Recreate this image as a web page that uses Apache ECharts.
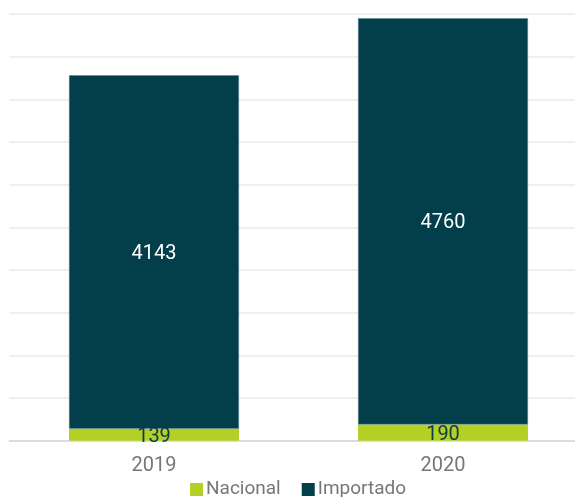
<!DOCTYPE html>
<html><head><meta charset="utf-8">
<script src="https://cdn.jsdelivr.net/npm/echarts@6/dist/echarts.min.js"></script>
<style>html,body{margin:0;padding:0;background:#fff;overflow:hidden}#c{width:595px;height:497px}</style>
</head><body><div id="c"></div>
<script>
var categories = ['2019', '2020'];
var nacional = [139, 190];
var importado = [4143, 4760];

var chart = echarts.init(document.getElementById('c'));
chart.setOption({
  animation: false,
  textStyle: { fontFamily: 'Roboto' },
  grid: { left: 9.5, top: 14, width: 578, height: 426.7, containLabel: false },
  legend: {
    data: ['Nacional', 'Importado'],
    top: 475, left: 185,
    itemWidth: 13, itemHeight: 13, itemGap: 21,
    icon: 'rect',
    itemStyle: { borderWidth: 0 },
    textStyle: { color: '#777', fontSize: 19, fontFamily: 'Roboto', padding: [0, 0, 0, -2] }
  },
  xAxis: {
    type: 'category', data: categories,
    axisLine: { lineStyle: { color: '#dddddd', width: 2 } },
    axisTick: { show: false },
    axisLabel: { color: '#777', fontSize: 20, margin: 15 }
  },
  yAxis: {
    type: 'value', min: 0, max: 5000, interval: 500,
    axisLabel: { show: false },
    axisLine: { show: false }, axisTick: { show: false },
    splitLine: { lineStyle: { color: '#efefef', width: 2 } }
  },
  series: [
    {
      name: 'Nacional', type: 'bar', stack: 't', data: nacional,
      barWidth: '58.8%',
      itemStyle: { color: '#b4d025' },
      label: { show: true, position: 'inside', color: '#0a3d48', fontSize: 20, offset: [0, 2] }
    },
    {
      name: 'Importado', type: 'bar', stack: 't', data: importado,
      itemStyle: { color: '#023f4b', borderColor: '#5e8790', borderWidth: 0.5 },
      label: { show: true, position: 'inside', color: '#ffffff', fontSize: 20, offset: [0, 2] }
    }
  ]
});
</script></body></html>
